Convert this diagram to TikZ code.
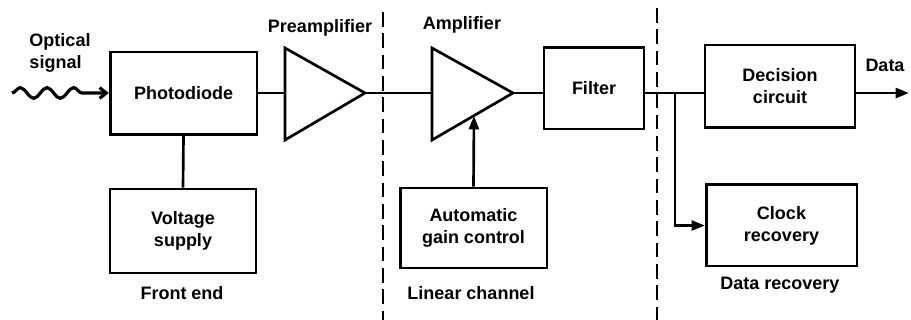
\documentclass[tikz,border=0pt]{standalone}
\usepackage{fontspec}
\setmainfont{Liberation Sans}
\usetikzlibrary{arrows.meta, positioning, decorations.pathmorphing}
\newcommand{\blkfont}{\bfseries\fontsize{13.5}{16.5}\selectfont}

\begin{document}
\begin{tikzpicture}[x=0.75pt, y=-0.75pt,
      block/.style={rectangle, draw, line width=2pt, inner sep=0pt,
                    align=center, font=\blkfont},
      lbl/.style={font=\blkfont, align=left, inner sep=0pt},
      wire/.style={line width=2pt, line join=miter},
      arr/.style={-{Triangle[length=10pt,width=7.5pt]}, line width=2pt},
      cut/.style={line width=2pt, dash pattern=on 11pt off 5pt}
    ]
    \useasboundingbox (0,0) rectangle (911,320);

    \node[block, minimum width=110pt, minimum height=62pt] (pd) at (183.5,93.5) {Photodiode};
    \node[block, minimum width=109.5pt, minimum height=63pt] (vs) at (183,231) {Voltage\\supply};
    \node[block, minimum width=75pt, minimum height=61pt] (filt) at (594,88.5) {Filter};
    \node[block, minimum width=112.5pt, minimum height=62pt] (dec) at (780,86.5) {Decision\\circuit};
    \node[block, minimum width=113pt, minimum height=61pt] (clk) at (781.5,225.5) {Clock\\recovery};
    \node[block, minimum width=110pt, minimum height=60pt] (agc) at (473.5,228) {Automatic\\gain control};

    % amplifier triangles
    \draw[wire] (285,48) -- (365,93) -- (285,140) -- cycle;
    \draw[wire] (432,48) -- (513,93) -- (432,140) -- cycle;
    \coordinate (prein) at (285,93);
    \coordinate (preout) at (365,93);
    \coordinate (ampin) at (432,93);
    \coordinate (ampout) at (513,93);
    \coordinate (agcin) at (474,116);
    \coordinate (wavein) at (12,93);
    \coordinate (tap) at (675,93);
    \coordinate (dataout) at (909,93);

    \draw[line width=2.4pt, -{Straight Barb[length=5pt,width=8pt]},
          decoration={snake, segment length=20pt, amplitude=4pt, post length=12pt}, decorate]
          (wavein) -- (pd.west |- wavein);
    \draw[wire] (pd.east |- wavein) -- (prein);
    \draw[wire] (preout) -- (ampin);
    \draw[wire] (ampout) -- (ampout -| filt.west);
    \draw[wire] (filt.east |- ampout) -- (ampout -| dec.west);
    \draw[arr] (tap) |- (clk.west);
    \draw[arr] (dec.east |- ampout) -- (dataout);
    \draw[wire] (pd.south) -- (vs.north);
    \draw[arr] (agc.north) -- (agcin);

    % section borders
    \draw[cut] (383,12) -- (383,320);
    \draw[cut] (657,8) -- (657,320);

    \node[lbl] (optlbl) at (60,53) {Optical\\signal};
    \node[lbl] (prelbl) at (320,28) {Preamplifier};
    \node[lbl] (amplbl) at (462,25) {Amplifier};
    \node[lbl] (datalbl) at (885,65) {Data};
    \node[lbl] (felbl) at (182,293) {Front end};
    \node[lbl] (lclbl) at (471,293) {Linear channel};
    \node[lbl] (drlbl) at (780,285) {Data recovery};
  \end{tikzpicture}
\end{document}
